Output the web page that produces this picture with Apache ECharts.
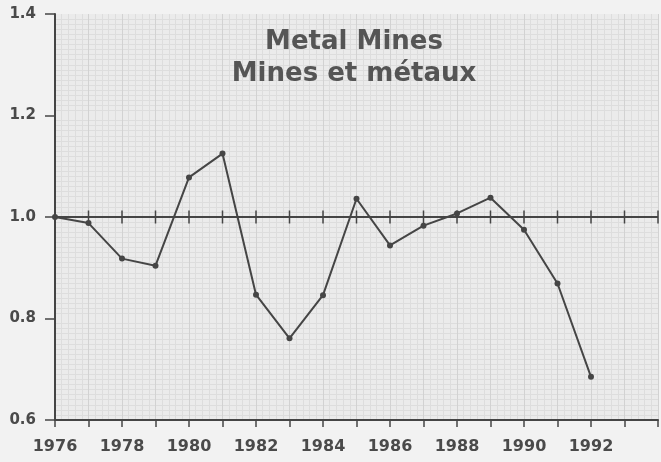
<!DOCTYPE html>
<html>
<head>
<meta charset="utf-8">
<script src="https://cdn.jsdelivr.net/npm/echarts@6/dist/echarts.min.js"></script>
<style>
  html, body { margin: 0; padding: 0; background: #f2f2f2; }
  #main { width: 661px; height: 462px; }
</style>
</head>
<body>
<div id="main"></div>
<script>
// annees et indices
const years = [1976, 1977, 1978, 1979, 1980, 1981, 1982, 1983, 1984,
  1985, 1986, 1987, 1988, 1989, 1990, 1991, 1992];
const values = [1.0, 0.988, 0.918, 0.904, 1.078, 1.125, 0.847, 0.761, 0.846,
  1.036, 0.944, 0.983, 1.007, 1.038, 0.975, 0.869, 0.685];
// ligne de reference a 1.0, avec un repere par annee
const refYears = [1976, 1977, 1978, 1979, 1980, 1981, 1982, 1983, 1984, 1985,
  1986, 1987, 1988, 1989, 1990, 1991, 1992, 1993, 1994];
const refValue = 1.0;
const yTicks = [0.6, 0.8, 1.0, 1.2, 1.4];
const titleLines = ['Metal Mines', 'Mines et métaux'];

const ink = '#454545';
const myChart = echarts.init(document.getElementById('main'));

myChart.setOption({
  animation: false,
  backgroundColor: '#f2f2f2',
  title: {
    text: titleLines.join('\n'),
    left: 349,
    top: 21,
    textAlign: 'center',
    textStyle: {
      color: '#555555',
      fontFamily: 'DejaVu Sans',
      fontWeight: 'bold',
      fontSize: 26,
      lineHeight: 32,
    },
  },
  grid: {
    left: 55,
    right: 1,
    top: 14,
    bottom: 42,
    show: true,
    backgroundColor: '#ebebeb',
    borderWidth: 0,
  },
  xAxis: {
    type: 'value',
    min: 1976,
    max: 1994,
    interval: 1,
    axisLine: { show: true, lineStyle: { color: ink, width: 2 } },
    axisTick: { show: true, length: 7, lineStyle: { color: ink, width: 1.5 } },
    axisLabel: {
      color: '#4a4a4a',
      fontFamily: 'DejaVu Sans',
      fontWeight: 'bold',
      fontSize: 16,
      margin: 19,
      formatter: function (v) {
        return v % 2 === 0 && v < 1994 ? String(v) : '';
      },
    },
    splitLine: { show: true, lineStyle: { color: '#d2d2d2', width: 1 } },
    minorTick: { show: false, splitNumber: 5 },
    minorSplitLine: { show: true, lineStyle: { color: '#dddddd', width: 1 } },
  },
  yAxis: {
    type: 'value',
    min: yTicks[0],
    max: yTicks[yTicks.length - 1],
    interval: 0.2,
    axisLine: { show: true, lineStyle: { color: ink, width: 2 } },
    axisTick: { show: true, length: 10, lineStyle: { color: ink, width: 1.5 } },
    axisLabel: {
      color: '#4a4a4a',
      fontFamily: 'DejaVu Sans',
      fontWeight: 'bold',
      fontSize: 15,
      margin: 19,
      formatter: function (v) { return v.toFixed(1); },
    },
    splitLine: { show: false },
    minorTick: { show: false, splitNumber: 20 },
    minorSplitLine: { show: true, lineStyle: { color: '#dddddd', width: 1 } },
  },
  series: [
    {
      name: 'reference',
      type: 'line',
      data: refYears.map(function (y) { return [y, refValue]; }),
      symbol: 'rect',
      symbolSize: [1.5, 13],
      showSymbol: true,
      lineStyle: { color: ink, width: 2 },
      itemStyle: { color: ink },
      z: 2,
    },
    {
      name: 'Metal Mines',
      type: 'line',
      data: years.map(function (y, i) { return [y, values[i]]; }),
      symbol: 'circle',
      symbolSize: 6,
      lineStyle: { color: ink, width: 2 },
      itemStyle: { color: ink },
      z: 3,
    },
  ],
});
</script>
</body>
</html>
